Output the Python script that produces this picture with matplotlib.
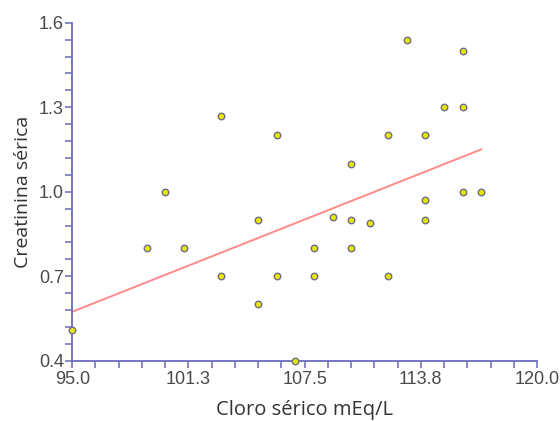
import matplotlib.pyplot as plt
import numpy as np

# Cloro sérico (mEq/L) y creatinina sérica de cada paciente
cloro = [95, 99, 100, 101, 103, 103, 105, 105, 106, 106, 107, 108, 108, 109,
         110, 110, 110, 111, 112, 112, 113, 114, 114, 114, 115, 116, 116, 116, 117]
creatinina = [0.51, 0.80, 1.00, 0.80, 0.70, 1.27, 0.90, 0.60, 1.20, 0.70, 0.40,
              0.80, 0.70, 0.91, 1.10, 0.90, 0.80, 0.89, 1.20, 0.70, 1.54, 1.20,
              0.97, 0.90, 1.30, 1.50, 1.30, 1.00, 1.00]

# recta ajustada: creatinina = intercepto + pendiente * (cloro - 95)
intercepto = 0.574
pendiente = 0.0262

x_ticks = [95.0, 101.25, 107.5, 113.75, 120.0]
x_ticklabels = ["95.0", "101.3", "107.5", "113.8", "120.0"]
y_ticks = [0.4, 0.7, 1.0, 1.3, 1.6]
y_ticklabels = ["0.4", "0.7", "1.0", "1.3", "1.6"]

axis_col = "#6b6bbd"

fig = plt.figure(figsize=(5.6, 4.21), dpi=100)
ax = fig.add_axes([0.129, 0.143, 0.830, 0.803])

x = np.array(cloro, dtype=float)
y = np.array(creatinina)
xl = np.array([x.min(), x.max()])
ax.plot(xl, intercepto + pendiente * (xl - 95), color="#ff8a8a", lw=1.4, zorder=2)

ax.scatter(x, y, s=22, facecolor="#e6e600", edgecolor="#6e6e8c",
           linewidth=1.0, zorder=3, clip_on=False)

ax.set_xlim(95, 120)
ax.set_ylim(0.4, 1.6)
ax.set_xticks(x_ticks)
ax.set_xticklabels(x_ticklabels)
ax.set_yticks(y_ticks)
ax.set_yticklabels(y_ticklabels)
ax.set_xticks(np.arange(95, 120.01, 1.25), minor=True)
ax.set_yticks(np.arange(0.4, 1.601, 0.06), minor=True)

for s in ["top", "right"]:
    ax.spines[s].set_visible(False)
for s in ["left", "bottom"]:
    ax.spines[s].set_color(axis_col)
    ax.spines[s].set_linewidth(1.3)

ax.tick_params(which="both", direction="out", color=axis_col, width=1.1,
               length=5, labelsize=13, labelcolor="#4a4a4a")
ax.tick_params(axis="x", pad=2)
ax.tick_params(axis="y", pad=1)
for lab in ax.get_xticklabels() + ax.get_yticklabels():
    lab.set_family("Liberation Sans")

ax.set_xlabel("Cloro sérico mEq/L", fontsize=14.5, family="Open Sans",
              color="#333333", labelpad=9)
ax.set_ylabel("Creatinina sérica", fontsize=14, family="Open Sans",
              color="#333333", labelpad=5)

fig.savefig("out.png", dpi=100)
